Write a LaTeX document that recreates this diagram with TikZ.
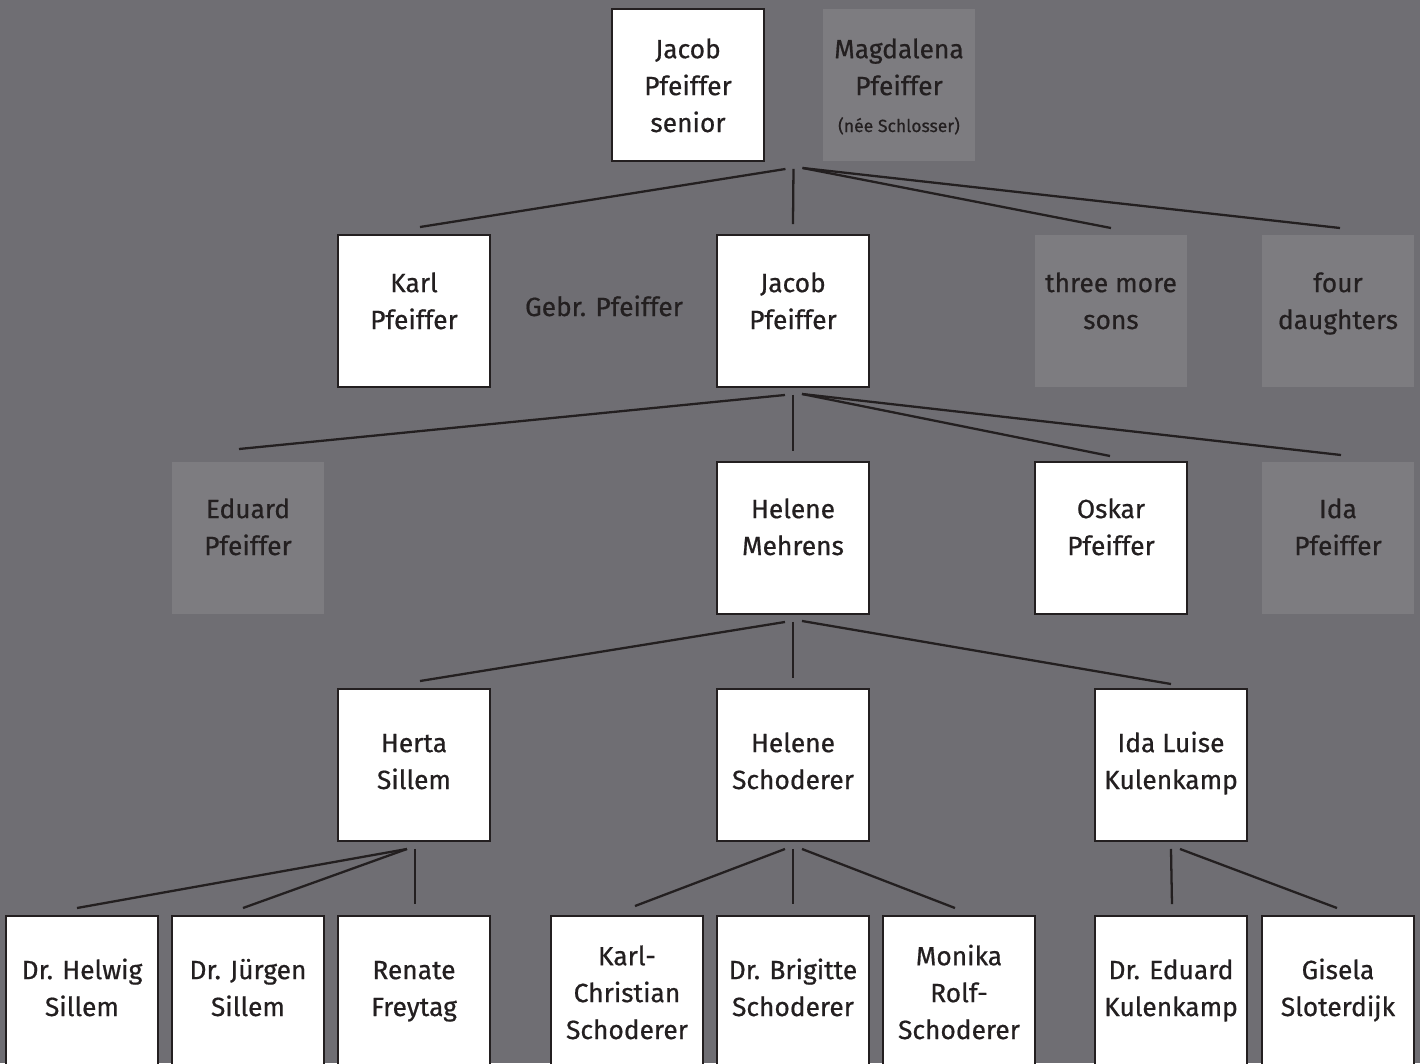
\documentclass[tikz,border=0pt]{standalone}
\usepackage{fontspec}
\setmainfont{Fira Sans}[FakeBold=0.6]
\usetikzlibrary{calc}
\definecolor{bgc}{RGB}{111,110,115}
\definecolor{greybox}{RGB}{125,124,128}
\definecolor{ink}{RGB}{35,31,32}
\begin{document}
\begin{tikzpicture}[x=0.02cm,y=-0.02cm,
  pbox/.style={draw=ink, line width=1.3pt, fill=white, minimum width=3.04cm, minimum height=3.04cm, inner sep=0pt, outer sep=0pt, anchor=north west},
  gbox/.style={fill=greybox, minimum width=3.04cm, minimum height=3.04cm, inner sep=0pt, outer sep=0pt, anchor=north west},
  ptext/.style={text=ink, font=\fontsize{15}{21}\selectfont, align=center, anchor=base, inner sep=0pt},
  conn/.style={draw=ink, line width=1.3pt}]
\useasboundingbox (0,0) rectangle (1420,1063);
\clip (0,0) rectangle (1420,1063);
\fill[bgc] (0,0) rectangle (1420,1063);

% row 0 (anchor base = baseline of last line)
\node[pbox] (js) at (612,9) {};
\node[gbox] (mag) at (823,9) {};
\node[ptext] (jsT) at ($(js.north)+(0,123)$) {Jacob\\Pfeiffer\\senior};
\node[ptext] (magT) at ($(mag.north)+(0,123)$) {Magdalena\\Pfeiffer\\{\fontsize{10}{10}\selectfont(née Schlosser)}};

% row 1
\node[pbox] (karl) at (338,235) {};
\node[pbox] (jp) at (717,235) {};
\node[gbox] (sons) at (1035,235) {};
\node[gbox] (daus) at (1262,235) {};
\node[ptext] (karlT) at ($(karl.north)+(0,94)$) {Karl\\Pfeiffer};
\node[ptext] (jpT) at ($(jp.north)+(0,94)$) {Jacob\\Pfeiffer};
\node[ptext] (sonsT) at ($(sons.north)+(0,94)$) {three more\\sons};
\node[ptext] (dausT) at ($(daus.north)+(0,94)$) {four\\daughters};
\node[ptext] (gebr) at (604,316) {Gebr. Pfeiffer};

% row 2
\node[gbox] (edu) at (172,462) {};
\node[pbox] (hm) at (717,462) {};
\node[pbox] (osk) at (1035,462) {};
\node[gbox] (ida) at (1262,462) {};
\node[ptext] (eduT) at ($(edu.north)+(0,93)$) {Eduard\\Pfeiffer};
\node[ptext] (hmT) at ($(hm.north)+(0,93)$) {Helene\\Mehrens};
\node[ptext] (oskT) at ($(osk.north)+(0,93)$) {Oskar\\Pfeiffer};
\node[ptext] (idaT) at ($(ida.north)+(0,93)$) {Ida\\Pfeiffer};

% row 3
\node[pbox] (herta) at (338,689) {};
\node[pbox] (hs) at (717,689) {};
\node[pbox] (il) at (1095,689) {};
\node[ptext] (hertaT) at ($(herta.north)+(0,100)$) {Herta\\Sillem};
\node[ptext] (hsT) at ($(hs.north)+(0,100)$) {Helene\\Schoderer};
\node[ptext] (ilT) at ($(il.north)+(0,100)$) {Ida Luise\\Kulenkamp};

% row 4
\node[pbox] (helwig) at (6,916) {};
\node[pbox] (jurgen) at (172,916) {};
\node[pbox] (renate) at (338,916) {};
\node[pbox] (kc) at (551,916) {};
\node[pbox] (brig) at (717,916) {};
\node[pbox] (mon) at (883,916) {};
\node[pbox] (ek) at (1095,916) {};
\node[pbox] (gis) at (1262,916) {};
\node[ptext] (helwigT) at ($(helwig.north)+(0,100)$) {Dr. Helwig\\Sillem};
\node[ptext] (jurgenT) at ($(jurgen.north)+(0,100)$) {Dr. Jürgen\\Sillem};
\node[ptext] (renateT) at ($(renate.north)+(0,100)$) {Renate\\Freytag};
\node[ptext] (kcT) at ($(kc.north)+(0,123)$) {Karl-\\Christian\\Schoderer};
\node[ptext] (brigT) at ($(brig.north)+(0,100)$) {Dr. Brigitte\\Schoderer};
\node[ptext] (monT) at ($(mon.north)+(0,123)$) {Monika\\Rolf-\\Schoderer};
\node[ptext] (ekT) at ($(ek.north)+(0,100)$) {Dr. Eduard\\Kulenkamp};
\node[ptext] (gisT) at ($(gis.north)+(0,100)$) {Gisela\\Sloterdijk};

% junctions
\coordinate (j0) at ($($(js.south east)!0.5!(mag.south west)$)+(0,8)$);
\coordinate (j1) at ($(jp.south)+(0,8)$);
\coordinate (j2) at ($(hm.south)+(0,8)$);
\coordinate (j3) at ($(herta.south)+(1,8)$);
\coordinate (j4) at ($(hs.south)+(0,8)$);
\coordinate (j5) at ($(il.south)+(0,8)$);

% connectors
\draw[conn] ($(j0)+(-8,0)$) -- ($(karl.north)+(6,-8)$);
\draw[conn] (j0) -- ($(jp.north)+(0,-11)$);
\draw[conn] ($(j0)+(9,-1)$) -- ($(sons.north)+(0,-7)$);
\draw[conn] ($(j0)+(9,-1)$) -- ($(daus.north)+(2,-7)$);

\draw[conn] ($(j1)+(-8,0)$) -- ($(edu.north)+(-9,-13)$);
\draw[conn] (j1) -- ($(hm.north)+(0,-11)$);
\draw[conn] ($(j1)+(9,-1)$) -- ($(osk.north)+(-1,-6)$);
\draw[conn] ($(j1)+(9,-1)$) -- ($(ida.north)+(3,-7)$);

\draw[conn] ($(j2)+(-8,0)$) -- ($(herta.north)+(6,-8)$);
\draw[conn] (j2) -- ($(hs.north)+(0,-11)$);
\draw[conn] ($(j2)+(9,-1)$) -- ($(il.north)+(0,-5)$);

\draw[conn] ($(j3)+(-8,0)$) -- ($(helwig.north)+(-5,-8)$);
\draw[conn] ($(j3)+(-8,0)$) -- ($(jurgen.north)+(-5,-8)$);
\draw[conn] (j3) -- ($(renate.north)+(1,-12)$);

\draw[conn] ($(j4)+(-8,0)$) -- ($(kc.north)+(8,-10)$);
\draw[conn] (j4) -- ($(brig.north)+(0,-12)$);
\draw[conn] ($(j4)+(9,0)$) -- ($(mon.north)+(-4,-8)$);

\draw[conn] (j5) -- ($(ek.north)+(1,-12)$);
\draw[conn] ($(j5)+(9,0)$) -- ($(gis.north)+(-1,-8)$);
\end{tikzpicture}
\end{document}
